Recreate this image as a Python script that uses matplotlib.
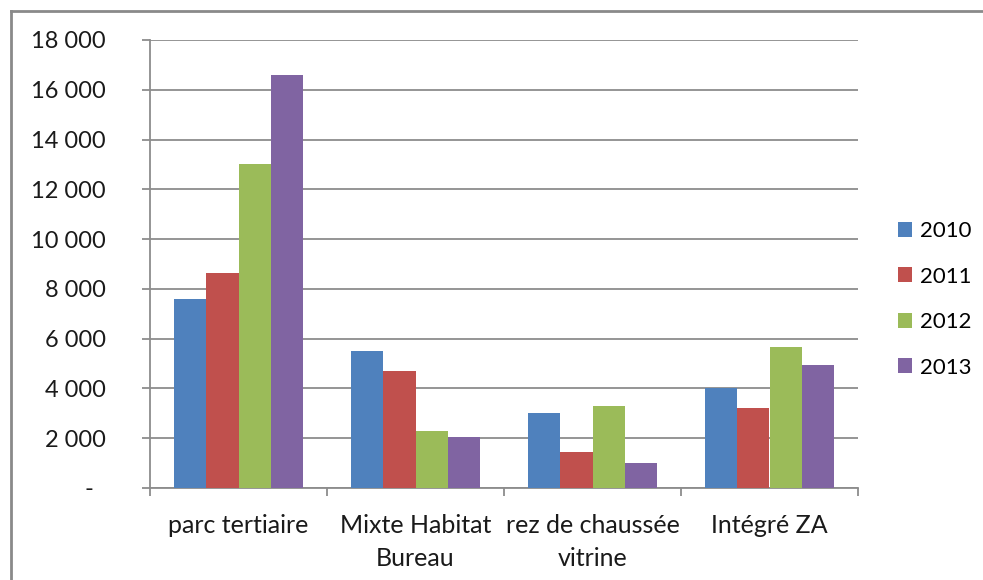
import matplotlib.pyplot as plt
import numpy as np
from matplotlib.lines import Line2D
from matplotlib.ticker import FuncFormatter, FixedLocator

plt.rcParams['font.family'] = ['Lato', 'DejaVu Sans']

categories = ["parc tertiaire", "Mixte Habitat\nBureau", "rez de chaussée\nvitrine", "Intégré ZA"]
years = ["2010", "2011", "2012", "2013"]
values_2010 = [7600, 5500, 3000, 4000]
values_2011 = [8650, 4700, 1450, 3200]
values_2012 = [13000, 2300, 3300, 5650]
values_2013 = [16600, 2050, 1000, 4950]
colors = ["#4F81BD", "#C0504D", "#9BBB59", "#8064A2"]

series = [values_2010, values_2011, values_2012, values_2013]

fig = plt.figure(figsize=(9.83, 5.8), dpi=100)
ax = fig.add_axes([150 / 983, 92 / 580, 708 / 983, 448 / 580])

grid_col = "#8C8C8C"
x = np.arange(len(categories))
w = 0.182
for i, (vals, col, yr) in enumerate(zip(series, colors, years)):
    ax.bar(x + (i - 1.5) * w, vals, width=w, color=col, label=yr, zorder=3)

ax.set_xlim(-0.5, 3.5)
ax.set_ylim(0, 18000)
ax.set_yticks(range(0, 18001, 2000))
ax.yaxis.set_major_formatter(FuncFormatter(
    lambda v, p: "-  " if v == 0 else f"{int(v):,}".replace(",", " ")))
ax.grid(axis='y', color=grid_col, linewidth=1.3, zorder=0)

ax.set_xticks(x)
ax.set_xticklabels(categories, linespacing=1.5)
ax.xaxis.set_minor_locator(FixedLocator(np.arange(-0.5, 3.6, 1)))
ax.tick_params(axis='x', which='major', length=0, pad=19, labelsize=18, colors='#1a1a1a')
ax.tick_params(axis='x', which='minor', length=6, width=1.3, color=grid_col)
ax.tick_params(axis='y', length=6, width=1.3, color=grid_col, pad=26, labelsize=17,
               labelcolor='#1a1a1a')

for s in ['top', 'right']:
    ax.spines[s].set_visible(False)
for s in ['left', 'bottom']:
    ax.spines[s].set_color(grid_col)
    ax.spines[s].set_linewidth(1.3)

ax.legend(loc='center left', bbox_to_anchor=(0.902, 0.484), bbox_transform=fig.transFigure,
          frameon=False, fontsize=16, handlelength=0.65, handleheight=0.65,
          handletextpad=0.35, labelspacing=1.15, borderpad=0)

# outer chart frame
fig.add_artist(Line2D([11 / 983, 11 / 983], [0, 1 - 11 / 580], transform=fig.transFigure,
                      color="#8A8A8A", linewidth=2))
fig.add_artist(Line2D([11 / 983, 1], [1 - 11 / 580, 1 - 11 / 580], transform=fig.transFigure,
                      color="#8A8A8A", linewidth=2))

fig.savefig("out.png", dpi=100)
